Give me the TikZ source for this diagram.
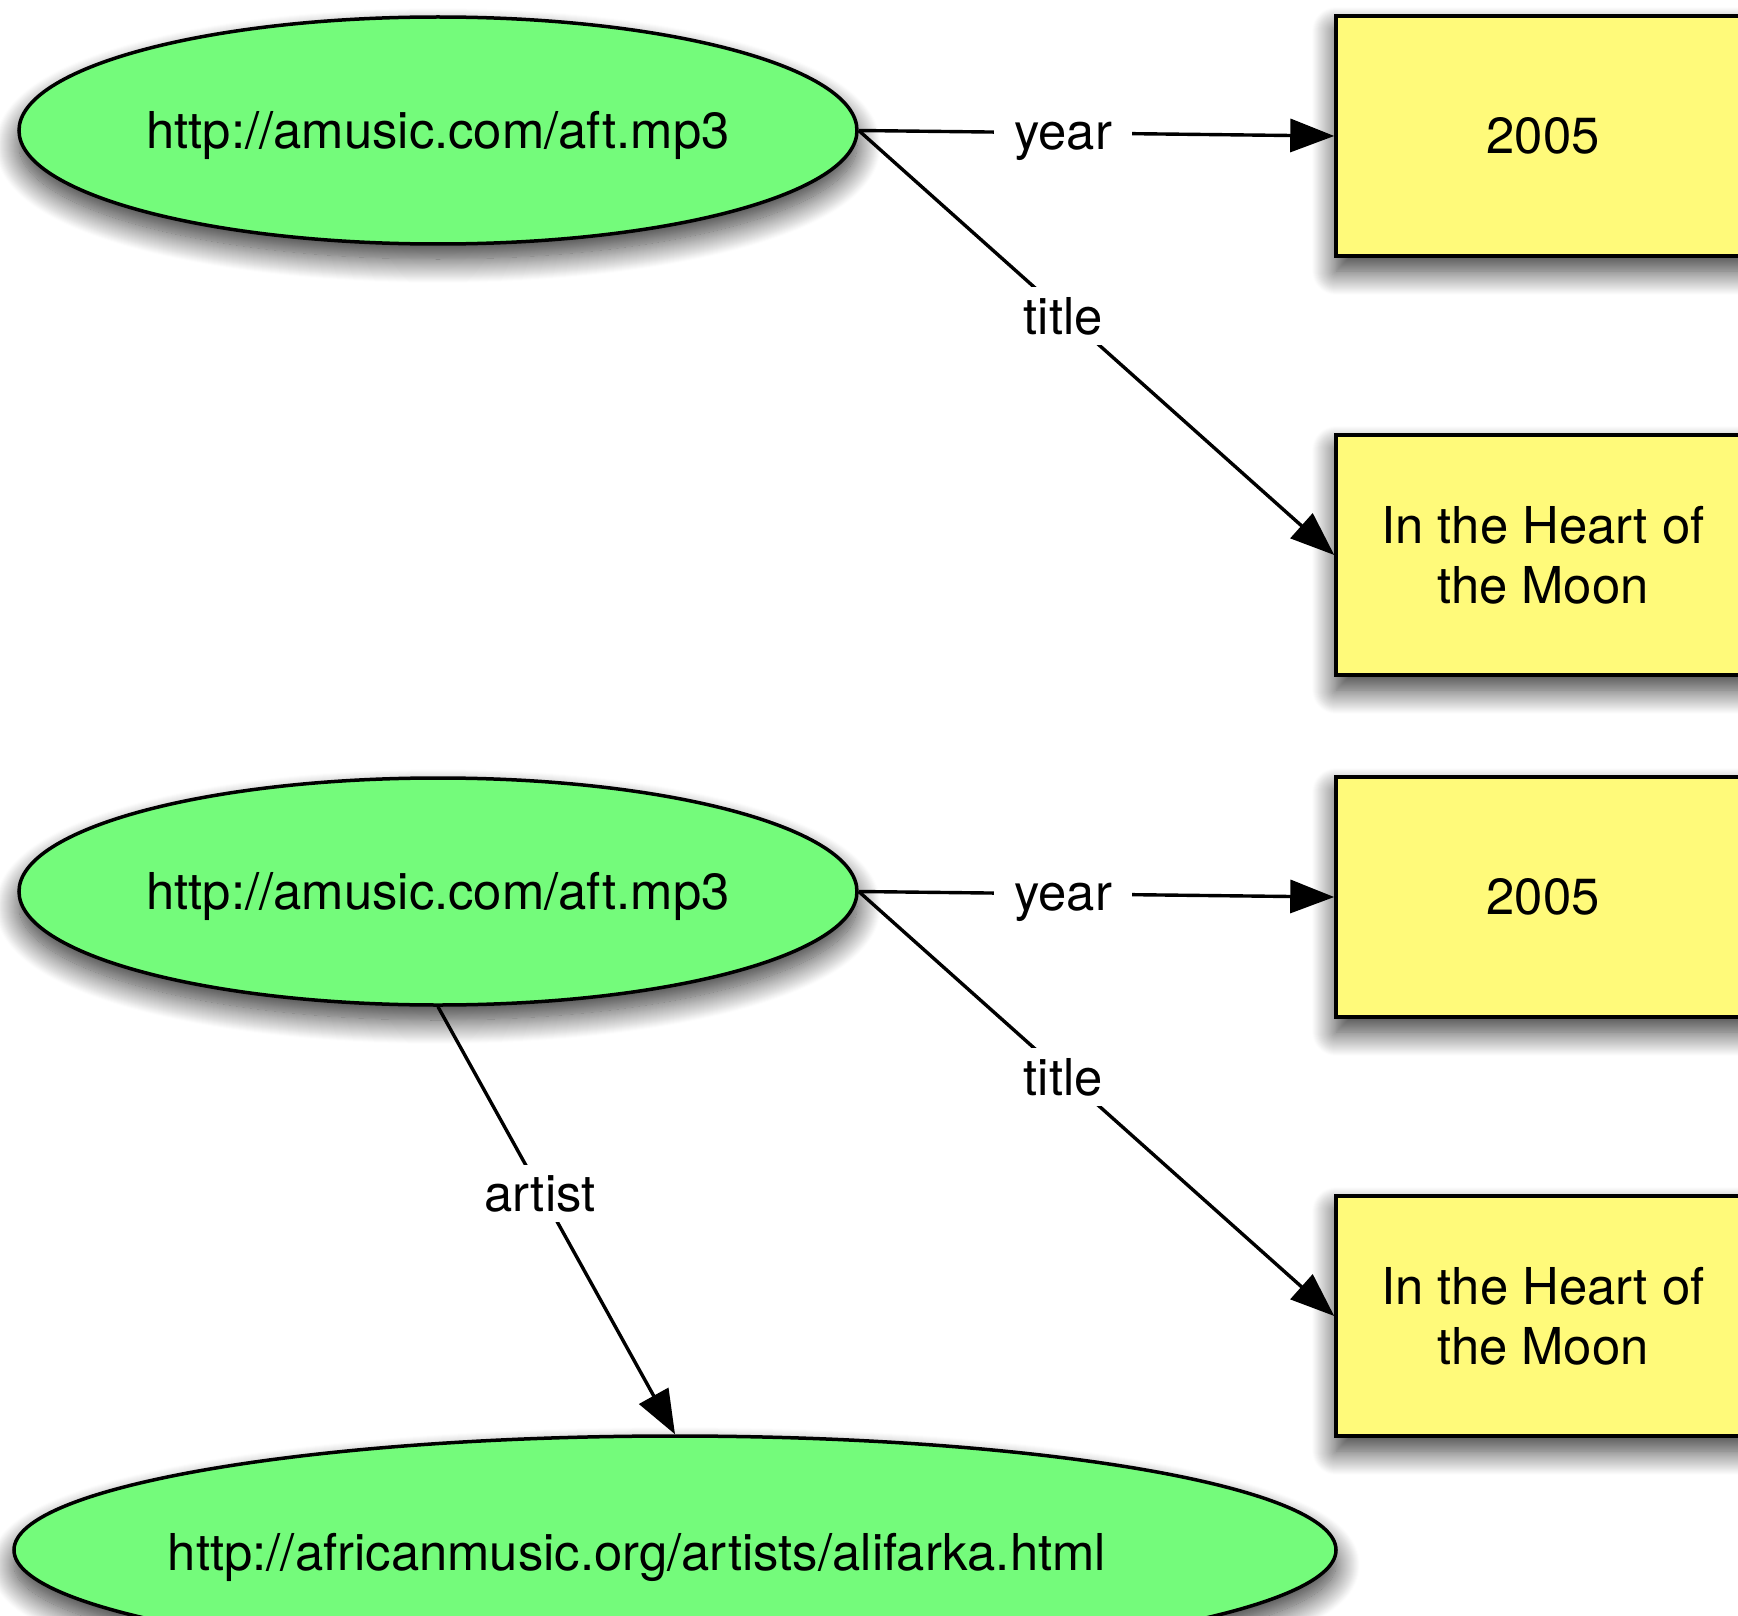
\documentclass[tikz,border=0pt]{standalone}
\usepackage{fontspec}
\setmainfont{TeX Gyre Heros}
\usetikzlibrary{arrows.meta,shapes.geometric,shadows.blur}
\definecolor{nodegreen}{RGB}{116,251,123}
\definecolor{nodeyellow}{RGB}{255,250,122}
\begin{document}
\begin{tikzpicture}[x=1pt,y=-1pt,
  every node/.style={font=\fontsize{50.8}{60}\selectfont},
  shade/.style={blur shadow={shadow xshift=0pt,shadow yshift=-15pt,shadow blur radius=24pt,shadow blur steps=25,shadow opacity=80}},
  res/.style={ellipse,draw,line width=3.5pt,fill=nodegreen,inner sep=0pt,shade},
  lit/.style={rectangle,draw,line width=3.5pt,fill=nodeyellow,minimum width=414pt,minimum height=240pt,inner sep=0pt,align=center,shade},
  rel/.style={line width=3.4pt,-{Triangle[length=44pt,width=33pt]}},
  lab/.style={pos=0.43,fill=white,inner xsep=20pt,inner ysep=10pt},
  ylab/.style={lab,yshift=-8pt},
  tlab/.style={lab,yshift=-3pt}]
\useasboundingbox (0,0) rectangle (1738,1616);
\node[res,minimum width=838pt,minimum height=227pt] (e1) at (438,130.5) {\raisebox{-5pt}[\height][\depth]{http://amusic.com/aft.mp3}};
\node[lit] (b1) at (1543,136) {2005};
\node[lit] (b2) at (1543,555) {In the Heart of\\the Moon};
\node[res,minimum width=838pt,minimum height=227pt] (e2) at (438,891.5) {\raisebox{-5pt}[\height][\depth]{http://amusic.com/aft.mp3}};
\node[lit] (b3) at (1543,897) {2005};
\node[lit] (b4) at (1543,1316) {In the Heart of\\the Moon};
\node[res,minimum width=1322pt,minimum height=228pt] (e3) at (675,1550) {\hspace*{-76pt}\raisebox{-7pt}[\height][\depth]{http://africanmusic.org/artists/alifarka.html}};
\draw[rel] (e1.east) -- node[ylab] (l1) {year} (b1.west);
\draw[rel] (e1.east) -- node[tlab] (l2) {title} (b2.west);
\draw[rel] (e2.east) -- node[ylab] (l3) {year} (b3.west);
\draw[rel] (e2.east) -- node[tlab] (l4) {title} (b4.west);
\draw[rel] (e2.south) -- node[tlab] (l5) {artist} (e3.north);
\end{tikzpicture}
\end{document}
